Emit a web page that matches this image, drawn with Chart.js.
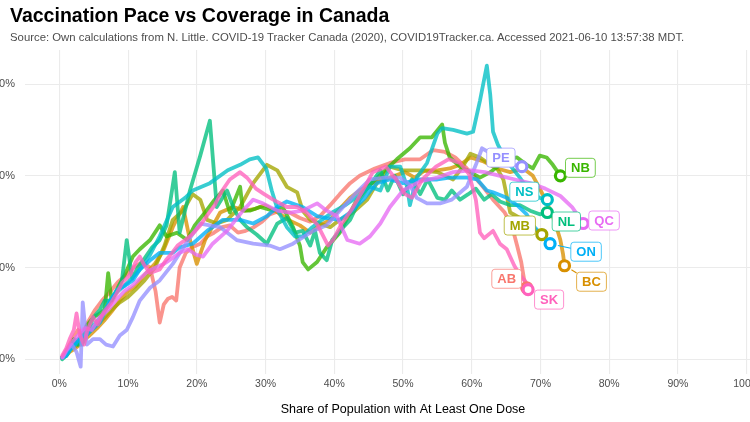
<!DOCTYPE html>
<html><head><meta charset="utf-8">
<script src="https://cdn.jsdelivr.net/npm/chart.js@4.4.1/dist/chart.umd.min.js"></script>
<style>
html,body{margin:0;padding:0;background:#fff;}
body{width:750px;height:422px;overflow:hidden;position:relative;font-family:"Liberation Sans",Arial,sans-serif;}
#wrap{position:absolute;left:-40px;top:0;width:840px;height:422px;}
#title{position:absolute;left:10px;top:4px;font-weight:bold;font-size:19.5px;line-height:22px;color:#000;white-space:nowrap;}
#sub{position:absolute;left:10px;top:31px;font-size:11.35px;line-height:13px;color:#4d4d4d;white-space:nowrap;}
</style></head><body>
<div id="wrap"><canvas id="c" width="840" height="422" style="width:840px;height:422px"></canvas></div>
<div id="title">Vaccination Pace vs Coverage in Canada</div>
<div id="sub">Source: Own calculations from N. Little. COVID-19 Tracker Canada (2020), COVID19Tracker.ca. Accessed 2021-06-10 13:57:38 MDT.</div>
<script>
const provinces = ['AB','BC','MB','NB','NL','NS','ON','PE','QC','SK'];
const colors = ['#F8766D','#D89000','#A3A500','#39B600','#00BF7D','#00BFC4','#00B0F6','#9590FF','#E76BF3','#FF62BC'];
const xTicks = [0,10,20,30,40,50,60,70,80,90,100];
const yTicks = [0,0.5,1,1.5];

const AB_x = [0.4,1.0,1.5,2.1,2.7,3.4,4.1,5.2,6.2,7.4,8.5,9.7,10.8,12.0,13.2,14.0,14.6,15.2,15.8,16.4,17.0,17.5,18.4,19.3,20.5,21.5,22.5,23.7,24.8,26.0,27.1,28.3,29.5,30.6,32.1,33.5,35.0,36.5,37.9,39.4,40.8,42.3,43.7,45.9,48.1,50.3,52.5,54.4,56.1,57.6,59.3,61.2,63.1,64.8,65.9,66.6,67.2,67.6,68.0];
const AB_y = [0.01,0.04,0.08,0.12,0.16,0.13,0.20,0.27,0.32,0.37,0.42,0.46,0.50,0.53,0.50,0.37,0.20,0.30,0.33,0.34,0.32,0.50,0.58,0.61,0.63,0.67,0.69,0.72,0.73,0.69,0.70,0.72,0.75,0.79,0.81,0.80,0.77,0.75,0.78,0.84,0.90,0.96,1.00,1.04,1.07,1.09,1.09,1.14,1.13,1.10,1.04,0.96,0.87,0.80,0.72,0.62,0.53,0.44,0.39];

const BC_x = [0.4,1.0,1.5,2.3,3.0,3.7,4.4,5.5,6.5,7.6,8.8,10.0,11.1,12.4,13.9,15.1,16.5,18.0,19.0,20.0,21.2,23.4,25.3,27.0,28.5,29.9,31.4,33.3,35.0,36.5,37.9,39.4,40.8,42.3,43.7,45.5,47.4,48.8,50.3,51.7,53.2,55.0,56.8,58.3,59.8,61.6,63.7,65.6,67.5,68.9,69.9,71.1,72.1,72.9,73.3,73.5];
const BC_y = [0.01,0.02,0.04,0.06,0.08,0.11,0.13,0.17,0.21,0.26,0.32,0.37,0.40,0.46,0.52,0.59,0.72,0.83,0.65,0.52,0.65,0.80,0.83,0.81,0.82,0.84,0.81,0.76,0.73,0.69,0.73,0.76,0.82,0.88,0.92,0.96,0.98,1.00,1.02,0.99,1.03,1.03,1.04,1.06,1.10,1.08,1.04,1.02,1.04,1.00,0.93,0.84,0.75,0.65,0.57,0.51];

const MB_x = [0.4,1.0,1.5,2.3,3.0,3.9,4.7,5.6,6.6,7.6,8.8,10.0,11.1,12.4,13.9,15.3,16.5,18.0,19.4,20.5,21.5,22.9,24.4,26.3,28.2,30.2,31.7,33.1,34.6,35.4,36.5,37.9,39.4,40.8,42.7,44.8,46.2,48.1,50.0,52.5,55.0,57.3,58.7,59.8,61.2,62.7,63.7,64.6,65.6,67.0,68.5,70.2];
const MB_y = [0.01,0.03,0.05,0.07,0.09,0.13,0.16,0.19,0.23,0.27,0.31,0.34,0.38,0.43,0.50,0.62,0.76,0.81,0.90,0.87,0.76,0.74,0.76,0.83,0.96,1.06,1.03,0.94,0.91,0.81,0.76,0.74,0.72,0.76,0.80,0.87,0.96,1.05,1.03,1.03,1.02,0.98,1.05,1.12,1.10,1.06,1.04,0.98,0.80,0.77,0.73,0.68];

const NB_x = [0.4,1.0,1.5,2.1,2.7,3.3,4.1,5.0,5.9,6.6,7.1,7.6,8.5,9.5,10.7,11.7,13.2,14.6,15.6,17.1,18.6,19.7,21.2,22.6,23.8,24.8,26.3,26.7,27.7,29.2,31.1,32.5,34.0,35.0,35.4,36.2,37.5,38.9,40.8,41.9,43.3,45.2,47.4,49.1,51.0,52.5,54.2,55.7,56.1,56.8,58.3,59.8,61.2,62.7,64.1,65.3,66.6,68.0,68.9,69.9,70.9,71.8,72.9];
const NB_y = [0.01,0.03,0.06,0.11,0.08,0.13,0.19,0.23,0.25,0.27,0.47,0.32,0.39,0.46,0.56,0.60,0.65,0.73,0.67,0.69,0.65,0.73,0.80,0.87,0.92,0.80,0.94,0.81,0.81,0.83,0.81,0.83,0.72,0.62,0.53,0.49,0.53,0.61,0.69,0.77,0.87,0.95,1.03,1.09,1.15,1.21,1.21,1.28,1.18,1.10,1.05,1.02,0.99,1.02,1.06,1.09,1.10,1.06,1.04,1.11,1.10,1.06,1.00];

const NL_x = [0.4,1.0,1.5,2.1,2.7,3.3,4.1,5.0,5.9,6.6,7.6,8.5,9.1,9.8,10.6,11.4,12.4,13.5,14.6,15.6,16.8,17.5,19.0,20.5,21.9,22.9,24.4,25.4,26.3,27.3,28.7,30.2,31.7,33.1,34.3,35.4,36.5,37.2,37.9,38.9,39.7,40.8,42.3,43.7,45.2,46.7,47.8,48.8,50.0,51.3,52.5,53.6,55.0,56.1,57.1,58.3,59.5,60.6,61.8,62.9,64.1,65.6,67.0,68.5,69.9,71.0];
const NL_y = [0.00,0.02,0.05,0.09,0.08,0.12,0.16,0.23,0.27,0.32,0.32,0.38,0.43,0.65,0.44,0.50,0.55,0.61,0.65,0.73,1.02,0.69,0.92,1.11,1.30,0.83,0.92,0.82,0.76,0.72,0.68,0.63,0.74,0.77,0.69,0.70,0.62,0.70,0.58,0.54,0.65,0.70,0.76,0.87,0.95,1.03,0.92,1.00,0.90,0.98,0.90,0.98,0.88,0.87,0.92,0.87,0.90,0.93,0.87,0.90,0.86,0.84,0.84,0.81,0.79,0.80];

const NS_x = [0.4,1.0,1.5,2.1,2.7,3.3,3.9,4.4,5.3,6.2,7.1,7.9,8.8,10.0,11.0,12.0,13.2,14.6,16.5,18.3,19.4,21.9,24.5,26.3,27.7,28.9,30.1,30.9,31.8,33.1,34.3,35.4,36.8,38.2,39.7,41.6,43.5,45.2,46.7,48.1,49.6,50.6,51.0,52.0,53.5,55.0,55.7,57.3,59.3,60.2,61.2,62.2,62.7,63.1,63.8,65.1,67.0,68.5,69.9,71.0];
const NS_y = [0.01,0.02,0.05,0.08,0.11,0.08,0.13,0.16,0.20,0.24,0.30,0.35,0.38,0.42,0.46,0.50,0.57,0.67,0.83,0.88,0.92,0.96,1.03,1.06,1.09,1.10,1.04,0.92,0.81,0.72,0.67,0.67,0.72,0.76,0.80,0.84,0.89,0.94,0.92,1.05,1.05,0.94,0.84,0.99,1.07,1.23,1.26,1.25,1.23,1.24,1.41,1.60,1.44,1.24,1.17,1.08,0.99,0.91,0.88,0.87];

const ON_x = [0.4,1.0,1.5,2.3,3.0,3.9,4.7,5.9,7.1,8.4,9.5,10.7,11.7,13.2,14.6,16.5,17.5,19.4,21.5,23.8,26.3,28.2,30.2,31.7,33.1,35.4,37.5,38.9,40.8,42.3,44.2,46.2,48.1,50.0,52.5,55.0,56.8,59.3,60.8,62.2,63.1,65.1,66.6,68.0,68.9,69.9,71.4];
const ON_y = [0.01,0.02,0.05,0.08,0.12,0.13,0.16,0.20,0.30,0.38,0.40,0.43,0.49,0.54,0.58,0.58,0.61,0.63,0.70,0.76,0.76,0.74,0.78,0.83,0.86,0.83,0.78,0.77,0.76,0.80,0.87,0.96,0.98,0.96,0.98,0.98,0.99,0.99,0.98,0.92,0.91,0.88,0.84,0.79,0.73,0.69,0.63];

const PE_x = [0.5,1.1,1.8,2.5,3.1,3.4,4.0,4.9,5.9,6.8,7.8,8.8,9.8,10.7,11.7,13.2,14.6,16.5,18.4,20.5,21.9,23.4,25.8,28.2,30.6,32.1,34.0,36.9,38.9,40.8,43.0,45.2,47.4,49.6,51.0,52.0,53.5,55.4,57.1,59.3,60.6,61.5,62.4,63.4,64.8,66.0,67.3];
const PE_y = [0.01,0.05,0.08,0.04,-0.04,0.31,0.08,0.11,0.11,0.08,0.07,0.13,0.16,0.23,0.32,0.39,0.43,0.52,0.63,0.74,0.73,0.72,0.65,0.63,0.62,0.60,0.63,0.70,0.73,0.81,0.90,0.98,0.99,0.99,0.95,0.88,0.85,0.85,0.87,0.94,1.06,1.15,1.13,1.09,1.08,1.06,1.05];

const QC_x = [0.4,1.0,1.8,2.7,3.7,4.7,5.9,7.1,8.2,9.4,10.6,11.7,12.9,14.0,15.2,16.4,17.5,18.7,19.9,20.9,22.3,24.4,26.7,28.2,29.6,31.7,33.6,35.4,37.5,38.9,40.4,41.3,41.9,43.7,45.2,46.7,48.1,50.0,52.5,55.0,57.3,59.8,61.9,64.1,66.3,68.5,70.7,72.9,74.6,75.5,76.2];
const QC_y = [0.01,0.05,0.09,0.13,0.17,0.16,0.23,0.27,0.32,0.37,0.40,0.44,0.48,0.50,0.52,0.55,0.58,0.60,0.57,0.56,0.63,0.70,0.81,0.87,0.85,0.81,0.80,0.81,0.85,0.81,0.78,0.70,0.65,0.63,0.67,0.74,0.83,0.92,0.97,0.99,1.02,1.03,1.02,1.00,0.98,0.96,0.93,0.89,0.83,0.78,0.74];

const SK_x = [0.4,1.0,1.5,2.1,2.5,3.0,3.6,4.1,4.9,5.6,6.5,7.4,8.2,9.2,10.3,11.1,11.7,12.4,13.2,13.9,14.6,15.5,16.4,17.2,18.3,19.3,20.5,21.6,22.6,23.7,24.8,26.3,27.3,28.6,29.8,31.1,33.1,34.6,36.0,37.6,39.1,39.8,41.1,42.6,44.0,45.6,47.5,49.0,50.3,51.3,52.8,54.8,56.6,58.3,59.6,60.6,61.2,61.8,63.1,64.1,65.1,66.2,67.0,67.9,68.2];
const SK_y = [0.02,0.06,0.11,0.16,0.25,0.13,0.08,0.16,0.23,0.19,0.26,0.30,0.35,0.42,0.46,0.53,0.56,0.51,0.47,0.48,0.49,0.54,0.58,0.62,0.65,0.68,0.73,0.79,0.84,0.92,0.98,1.02,0.99,0.93,0.90,0.87,0.83,0.83,0.80,0.73,0.62,0.65,0.74,0.82,0.91,1.02,1.05,0.98,0.90,0.88,0.98,1.05,1.09,1.07,1.01,0.87,0.69,0.66,0.70,0.63,0.60,0.51,0.46,0.42,0.38];

const seriesX = {AB:AB_x,BC:BC_x,MB:MB_x,NB:NB_x,NL:NL_x,NS:NS_x,ON:ON_x,PE:PE_x,QC:QC_x,SK:SK_x};
const seriesY = {AB:AB_y,BC:BC_y,MB:MB_y,NB:NB_y,NL:NL_y,NS:NS_y,ON:ON_y,PE:PE_y,QC:QC_y,SK:SK_y};

// label placement (pixel offsets from end point) - style only
const labelOffsets = {AB:[-20,-9],BC:[27,16],MB:[-22,-9],NB:[20,-8],NL:[19,9],NS:[-23,-8],ON:[36,8],PE:[-21,-9],QC:[21,-3],SK:[21,10]};

function hexA(hex,a){const n=parseInt(hex.slice(1),16);return `rgba(${n>>16&255},${n>>8&255},${n&255},${a})`;}

const FONT = '"Liberation Sans", Arial, sans-serif';
Chart.defaults.font.family = FONT;

const datasets = provinces.map((p,i)=>({
  label:p,
  data: seriesX[p].map((v,j)=>({x:v,y:seriesY[p][j]})),
  showLine:true,
  borderColor: hexA(colors[i],0.78),
  borderWidth:3.8,
  pointRadius:0,
  pointHoverRadius:0,
  tension:0,
  borderJoinStyle:'round',
  borderCapStyle:'round',
  order: 20 - i
}));
datasets.push({
  label:'ends',
  data: provinces.map(p=>({x:seriesX[p][seriesX[p].length-1], y:seriesY[p][seriesY[p].length-1]})),
  showLine:false,
  pointRadius:5,
  pointHoverRadius:5,
  pointBorderWidth:3.2,
  pointBackgroundColor:'#ffffff',
  pointBorderColor: colors,
  order:-1
});

const labelPlugin = {
  id:'endLabels',
  afterDatasetsDraw(chart){
    const ctx = chart.ctx, xs = chart.scales.x, ys = chart.scales.y;
    ctx.save();
    ctx.font = 'bold 13px ' + FONT;
    ctx.textAlign='center'; ctx.textBaseline='middle';
    provinces.forEach((p,i)=>{
      const px = xs.getPixelForValue(seriesX[p][seriesX[p].length-1]);
      const py = ys.getPixelForValue(seriesY[p][seriesY[p].length-1]);
      const off = labelOffsets[p];
      const cx = px+off[0], cy = py+off[1];
      const tw = ctx.measureText(p).width;
      const w = tw+11, h = 19;
      const d = Math.hypot(off[0],off[1]);
      if (d > 28){
        const ux = -off[0]/d, uy = -off[1]/d;
        const t = Math.min((w/2)/Math.abs(off[0]||1e-6),(h/2)/Math.abs(off[1]||1e-6))*d;
        ctx.beginPath();
        ctx.moveTo(px - ux*8, py - uy*8);
        ctx.lineTo(cx + ux*t, cy + uy*t);
        ctx.strokeStyle = colors[i]; ctx.lineWidth = 1.1; ctx.stroke();
      }
      const x0 = cx-w/2, y0 = cy-h/2, r=3;
      ctx.beginPath();
      ctx.moveTo(x0+r,y0); ctx.lineTo(x0+w-r,y0); ctx.quadraticCurveTo(x0+w,y0,x0+w,y0+r);
      ctx.lineTo(x0+w,y0+h-r); ctx.quadraticCurveTo(x0+w,y0+h,x0+w-r,y0+h);
      ctx.lineTo(x0+r,y0+h); ctx.quadraticCurveTo(x0,y0+h,x0,y0+h-r);
      ctx.lineTo(x0,y0+r); ctx.quadraticCurveTo(x0,y0,x0+r,y0);
      ctx.closePath();
      ctx.fillStyle='#ffffff'; ctx.fill();
      ctx.strokeStyle = hexA(colors[i],0.7); ctx.lineWidth=1; ctx.stroke();
      ctx.fillStyle = colors[i];
      ctx.fillText(p, cx, cy+1);
    });
    ctx.restore();
  }
};

new Chart(document.getElementById('c'),{
  type:'scatter',
  data:{datasets},
  options:{
    responsive:false,
    animation:false,
    devicePixelRatio:1,
    layout:{padding:{top:50,right:19,left:0,bottom:0}},
    plugins:{legend:{display:false},tooltip:{enabled:false},title:{display:false}},
    events:[],
    scales:{
      x:{
        type:'linear', min:-5, max:105,
        afterBuildTicks:(s)=>{s.ticks = xTicks.map(v=>({value:v}));},
        afterFit:(s)=>{s.height = 48;},
        ticks:{callback:(v)=>v+'%', color:'#4d4d4d', font:{size:10.5}, padding:4, maxRotation:0, autoSkip:false},
        grid:{color:'#ebebeb', lineWidth:1.1, drawTicks:false},
        border:{display:false},
        title:{display:true, text:'Share of Population with At Least One Dose', color:'#000', font:{size:12.5}, padding:{top:0,bottom:5}}
      },
      y:{
        type:'linear', min:-0.08, max:1.6856,
        afterBuildTicks:(s)=>{s.ticks = yTicks.map(v=>({value:v}));},
        afterFit:(s)=>{s.width = 65;},
        ticks:{callback:(v)=>v.toFixed(2)+'%', color:'#4d4d4d', font:{size:11}, padding:10},
        grid:{color:'#ebebeb', lineWidth:1.1, drawTicks:false},
        border:{display:false}
      }
    }
  },
  plugins:[labelPlugin]
});
</script>
</body></html>
